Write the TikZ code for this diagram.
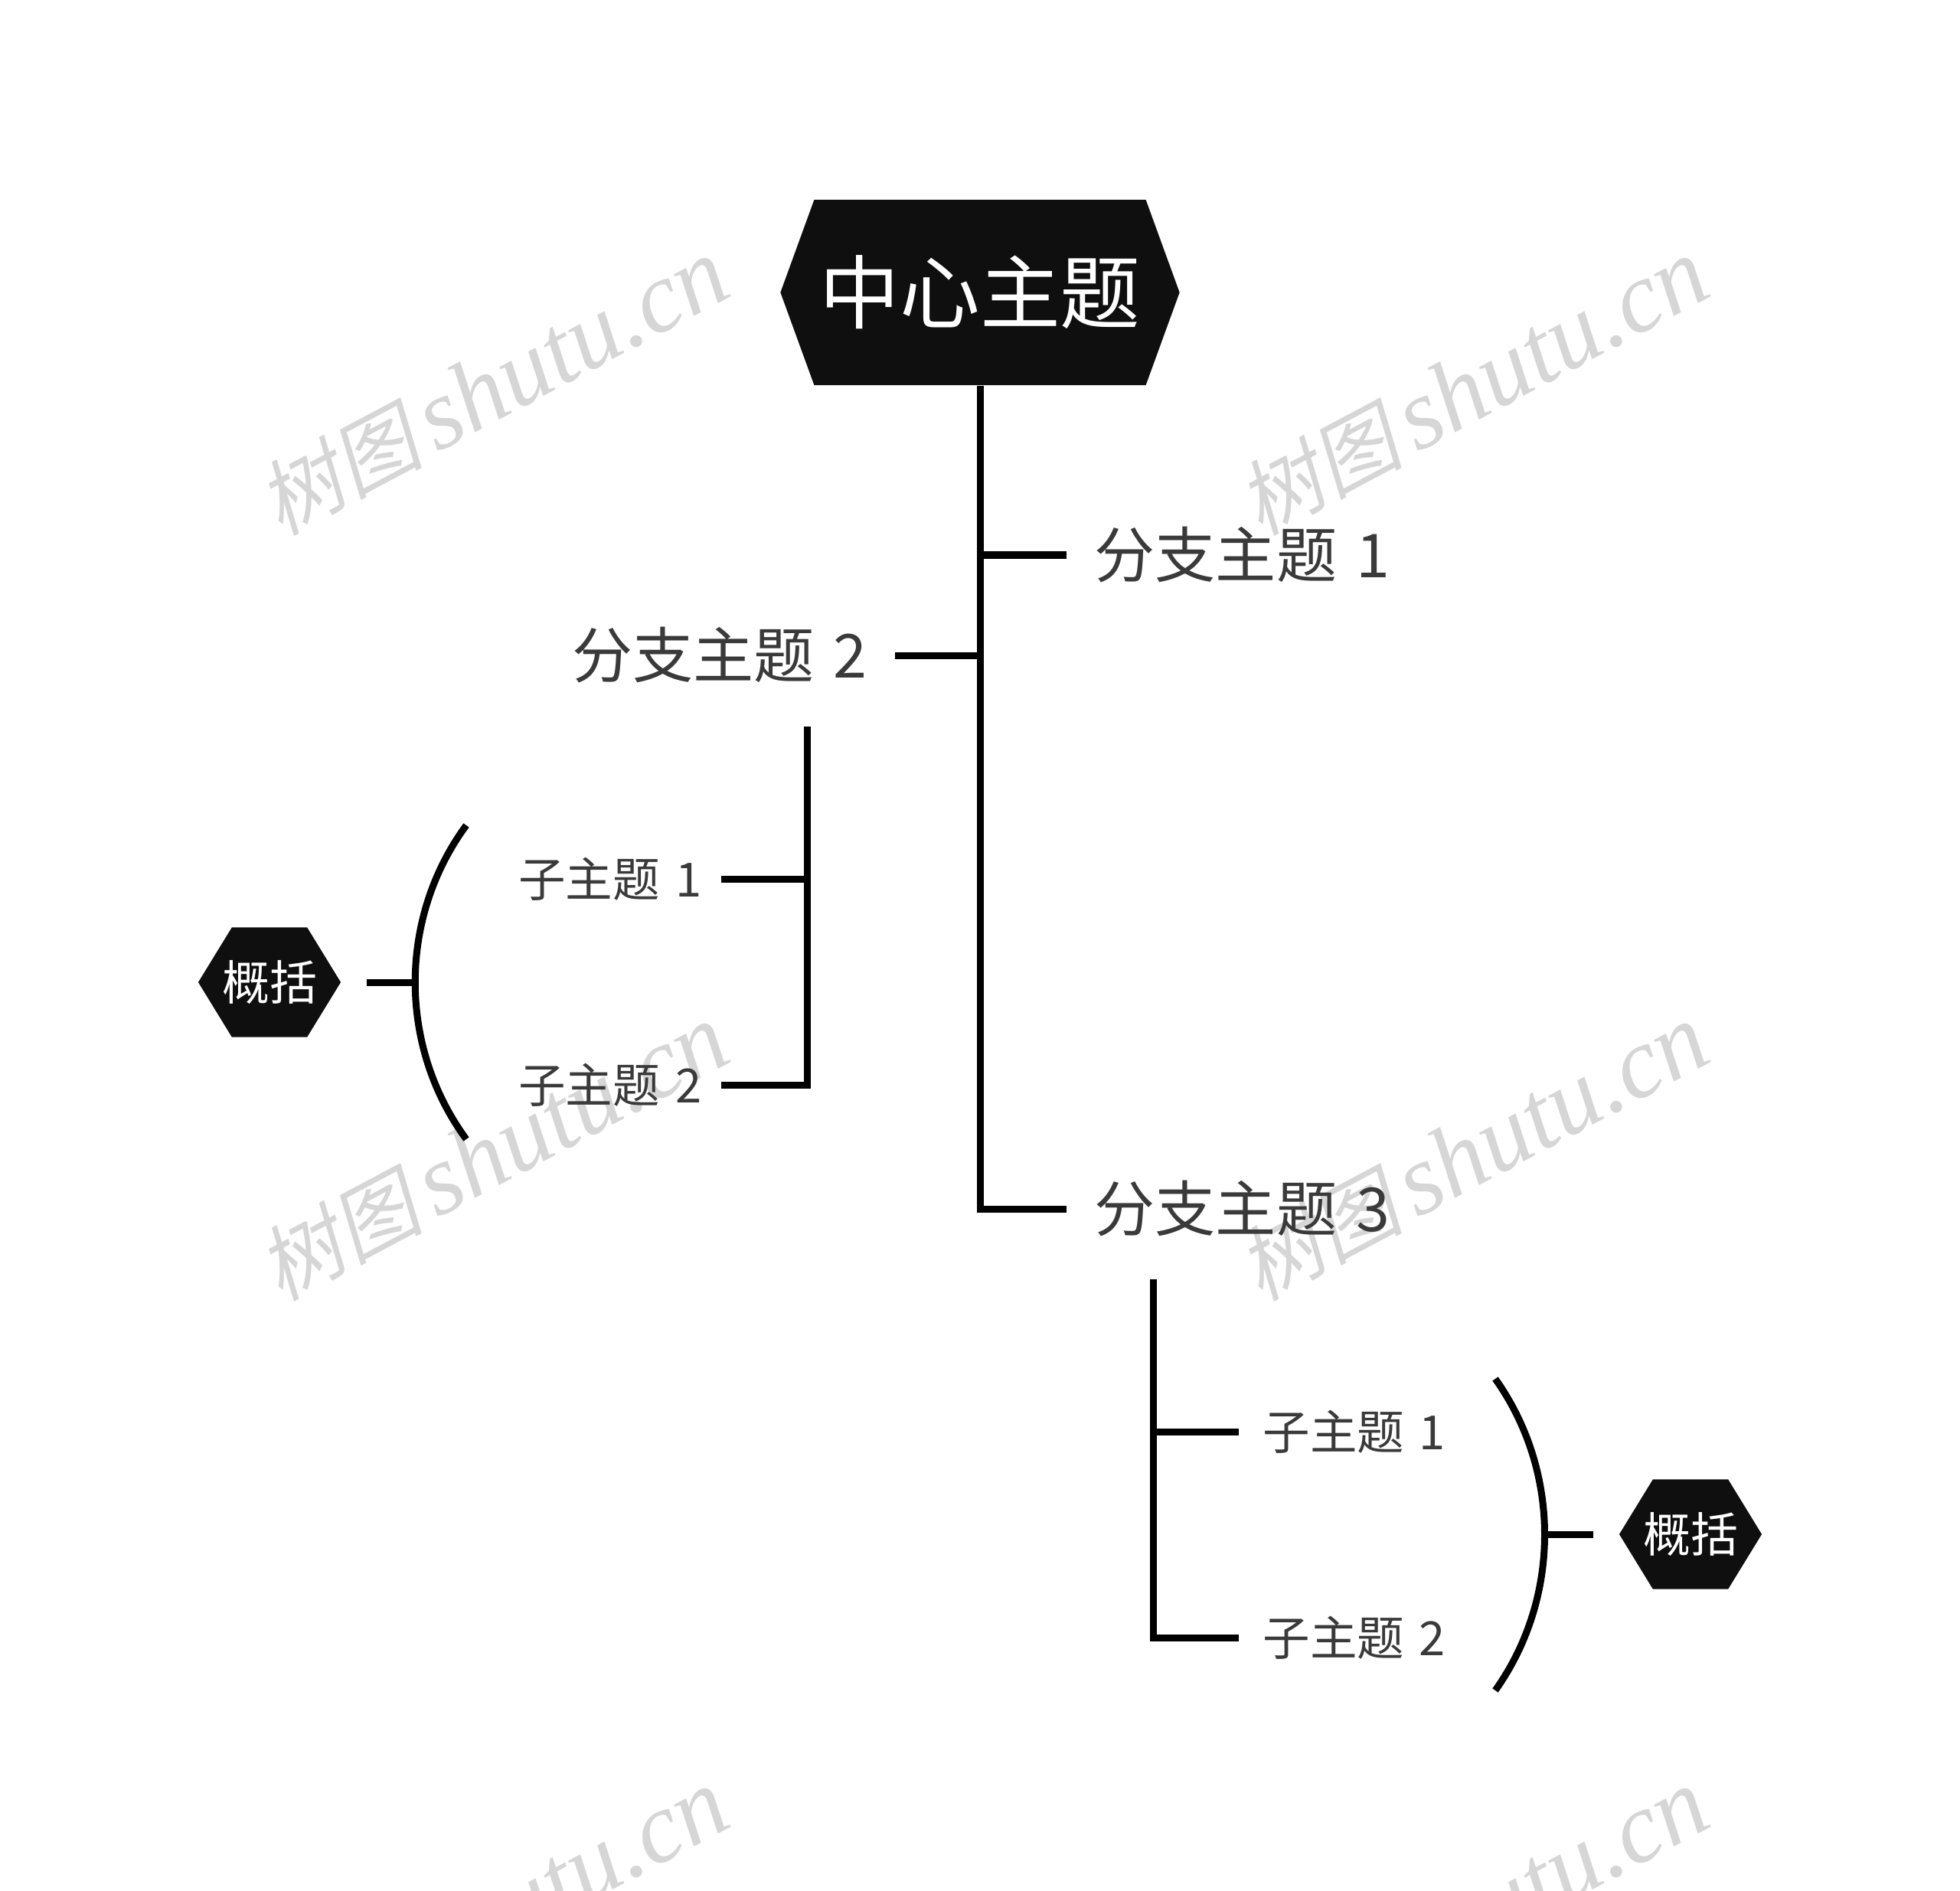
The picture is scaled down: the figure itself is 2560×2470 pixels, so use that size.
\documentclass[tikz,border=0pt]{standalone}
\usepackage{fontspec}
\setmainfont[WordSpace=1.4]{Noto Sans CJK SC}
\newfontfamily\markfont[FakeSlant=0.2]{Noto Sans CJK SC}
\newfontfamily\marklatin{Liberation Serif}
\usetikzlibrary{shapes.symbols}
\definecolor{hexblack}{HTML}{0F0F0F}
\definecolor{labelgray}{HTML}{3A3A3A}
\definecolor{markgray}{HTML}{D6D6D6}
\tikzset{
    linkline/.style={line width=0.09cm,black},
    hexnode/.style={signal,signal to=east and west,fill=hexblack,text=white,inner sep=0pt},
    hubnode/.style={hexnode,signal pointer angle=140,minimum width=5.21cm,minimum height=2.42cm,font=\fontsize{29.8pt}{29.8pt}\selectfont},
    sumnode/.style={hexnode,inner xsep=-0.3cm,signal pointer angle=117,minimum width=1.86cm,minimum height=1.43cm,font=\fontsize{17.6pt}{17.6pt}\selectfont},
    branchnode/.style={text=labelgray,inner ysep=0pt,text height=17pt,text depth=0pt,font=\fontsize{22.5pt}{22.5pt}\selectfont},
    subnode/.style={text=labelgray,inner ysep=0pt,text height=13.4pt,text depth=0pt,font=\fontsize{17.5pt}{17.5pt}\selectfont},
    marknode/.style={text=markgray,rotate=28,anchor=center},
}
\newcommand{\markrow}[2]{\node[marknode] at (#1,#2) {{\markfont\fontsize{30.6pt}{30.6pt}\selectfont 树图}\hspace{0.17cm}{\marklatin\itshape\fontsize{37.3pt}{37.3pt}\selectfont shutu.cn}};}
\begin{document}
\begin{tikzpicture}[x=0.01cm,y=-0.01cm]
    \useasboundingbox (0,0) rectangle (2560,2470);
    \clip (0,0) rectangle (2560,2470);
    %% watermark
    \markrow{644}{506}
    \markrow{1924}{506}
    \markrow{644}{1506}
    \markrow{1924}{1506}
    \markrow{644}{2505}
    \markrow{1924}{2505}
    %% centre and branches
    \node[hubnode] (hub) at (1280,382) {中心主题};
    \node[branchnode,anchor=west,inner xsep=0.36cm] (branchA) at (1393,725) {分支主题 1};
    \node[branchnode,anchor=east,inner xsep=0.36cm] (branchB) at (1169,856) {分支主题 2};
    \node[branchnode,anchor=west,inner xsep=0.36cm] (branchC) at (1393,1579) {分支主题 3};
    \draw[linkline] (hub.south) |- (branchC.west);
    \draw[linkline] (branchA.west) -- (branchA.west -| hub.south);
    \draw[linkline] (branchB.east) -- (branchB.east -| hub.south);
    %% left group
    \node[subnode,anchor=east,inner xsep=0.19cm,text width=2.45cm] (subBA) at (942,1148) {子主题 1};
    \node[subnode,anchor=east,inner xsep=0.19cm,text width=2.45cm] (subBB) at (942,1417) {子主题 2};
    \coordinate (railB) at (1054,949);
    \draw[linkline] (railB) |- (subBB.east);
    \draw[linkline] (subBA.east) -- (subBA.east -| railB);
    \coordinate (arcBtop) at (609,1078);
    \coordinate (arcBmid) at (542,1283);
    \coordinate (arcBend) at (609,1488);
    \draw[linkline] (arcBtop) .. controls (520,1199) and (520,1367) .. (arcBend);
    \node[sumnode] (sumB) at (352,1283) {概括};
    \draw[linkline,shorten <=0.33cm] (sumB.east) -- (arcBmid);
    %% right group
    \node[subnode,anchor=west,inner xsep=0.31cm] (subCA) at (1618,1870) {子主题 1};
    \node[subnode,anchor=west,inner xsep=0.31cm] (subCB) at (1618,2139) {子主题 2};
    \coordinate (railC) at (1506,1671);
    \draw[linkline] (railC) |- (subCB.west);
    \draw[linkline] (subCA.west) -- (subCA.west -| railC);
    \coordinate (arcCtop) at (1953,1801);
    \coordinate (arcCmid) at (2018,2004);
    \coordinate (arcCend) at (1953,2208);
    \draw[linkline] (arcCtop) .. controls (2039,1922) and (2039,2087) .. (arcCend);
    \node[sumnode] (sumC) at (2208,2004) {概括};
    \draw[linkline,shorten <=0.33cm] (sumC.west) -- (arcCmid);
\end{tikzpicture}
\end{document}
